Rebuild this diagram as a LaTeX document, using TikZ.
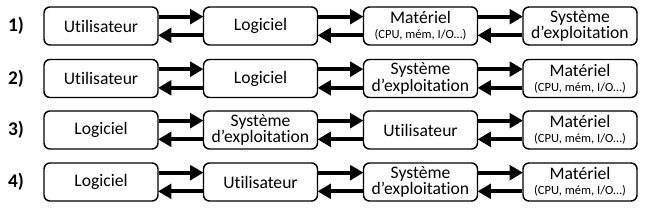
\documentclass[tikz,border=0pt]{standalone}
\usepackage{fontspec}
\setmainfont[Ligatures=NoCommon]{Carlito}
\usetikzlibrary{arrows.meta}
\begin{document}
\begin{tikzpicture}[x=0.75pt,y=-0.75pt,
  box/.style={draw, line width=1.1pt, rounded corners=4.5pt, minimum width=85.5pt, minimum height=28.5pt, inner sep=0pt, align=center, font=\fontsize{13.2}{13.5}\selectfont},
  lbl/.style={font=\fontsize{14.5}{15}\selectfont\bfseries},
  flow/.style={line width=3.2pt, -{Triangle[length=10pt,width=11pt]}, shorten >=-0.5pt}]
\useasboundingbox (0,0) rectangle (650,210);
\def\mat{Matériel\\[-2pt]{\fontsize{9.4}{9.5}\selectfont (CPU, mém, I/O…)}}
\def\sys{Système\\[-1pt]d’exploitation}
\foreach \r/\y/\a/\b/\c/\d in {
  1/26/Utilisateur/Logiciel/\mat/\sys,
  2/78.5/Utilisateur/Logiciel/\sys/\mat,
  3/130/Logiciel/\sys/Utilisateur/\mat,
  4/182/Logiciel/Utilisateur/\sys/\mat}{
  \node[lbl] (l\r) at (16,\y) {\r)};
  \node[box] (a\r) at (101,\y) {\a};
  \node[box] (b\r) at (260.5,\y) {\b};
  \node[box] (c\r) at (420.5,\y) {\c};
  \node[box] (d\r) at (580,\y) {\d};
  \foreach \p/\q in {a/b,b/c,c/d}{
    \draw[flow] ([yshift=7pt]\p\r.east) -- ([yshift=7pt]\q\r.west);
    \draw[flow] ([yshift=-7pt]\q\r.west) -- ([yshift=-7pt]\p\r.east);
  }
}
\end{tikzpicture}
\end{document}
